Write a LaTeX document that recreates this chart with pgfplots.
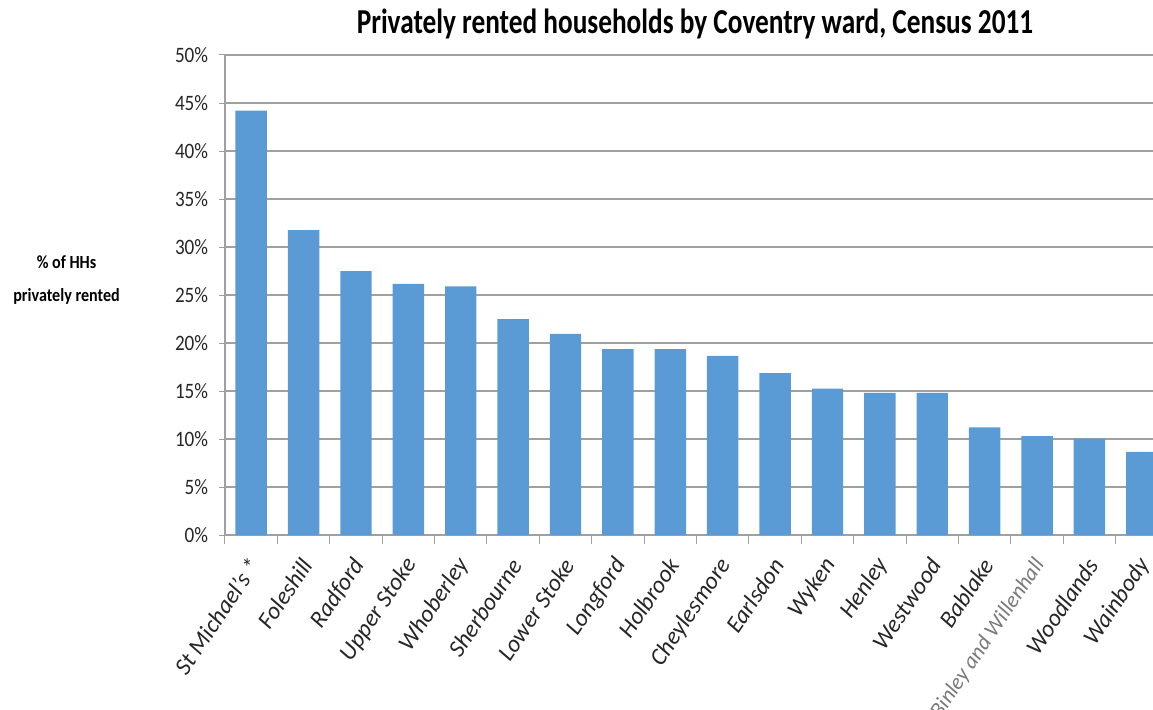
\documentclass[border=0pt]{standalone}
\usepackage{fontspec}
\setmainfont{Carlito}
\usepackage{pgfplots}
\pgfplotsset{compat=1.18}
\definecolor{barblue}{HTML}{5B9BD5}
\definecolor{gridgray}{HTML}{A0A0A0}
\definecolor{txt}{HTML}{262626}
\definecolor{fadetxt}{HTML}{7A7A7A}
\begin{document}
\begin{tikzpicture}
\path[use as bounding box] (-225pt,-174pt) rectangle (928pt,535pt);
\begin{axis}[
  at={(0pt,0pt)}, anchor=south west,
  scale only axis, width=943pt, height=480pt,
  xmin=-0.5, xmax=17.5, ymin=0, ymax=50,
  axis x line*=bottom, axis y line*=left,
  axis line style={draw=gridgray, line width=1.2pt, -},
  ytick={0,5,...,50},
  yticklabel={\pgfmathprintnumber{\tick}\%},
  ymajorgrids, grid style={draw=gridgray, line width=1.5pt},
  xtick={0,...,17},
  xticklabels={St Michael's *, Foleshill, Radford, Upper Stoke, Whoberley, Sherbourne, Lower Stoke, Longford, Holbrook, Cheylesmore, Earlsdon, Wyken, Henley, Westwood, Bablake, {\fontsize{22}{22}\selectfont\itshape\textcolor{fadetxt}{Binley and Willenhall}}, Woodlands, Wainbody},
  minor xtick={-0.5,0.5,...,17.5},
  major x tick style={draw=none},
  tick align=outside,
  tick style={draw=gridgray, line width=1pt},
  major tick length=6pt, minor tick length=9pt,
  /pgf/number format/assume math mode=true,
  yticklabel style={font=\fontsize{22}{22}\selectfont, text=txt, xscale=0.87, anchor=east, xshift=-9pt},
  xticklabel shift=17pt,
  xticklabel style={font=\fontsize{24}{24}\selectfont\itshape, text=txt, xshift=5pt, rotate=56, anchor=east},
  title={Privately rented households by Coventry ward, Census 2011},
  title style={at={(axis description cs:0.4984,1.0333)}, anchor=base, font=\fontsize{35}{35}\selectfont\bfseries, text=black, xscale=0.78},
  ylabel={\% of HHs\\privately rented},
  ylabel style={at={(axis description cs:-0.168,0.531)}, rotate=-90, anchor=center, align=center, font=\fontsize{18.5}{33}\selectfont\bfseries, text=black, xscale=0.87},
]
\addplot[ybar, bar width=0.6, fill=barblue, draw=none] coordinates {
(0,44.2) (1,31.75) (2,27.5) (3,26.15) (4,25.9) (5,22.5) (6,20.95) (7,19.35) (8,19.35) (9,18.65) (10,16.85) (11,15.25) (12,14.8) (13,14.8) (14,11.2) (15,10.3) (16,10.05) (17,8.65)
};
\end{axis}
\end{tikzpicture}
\end{document}
